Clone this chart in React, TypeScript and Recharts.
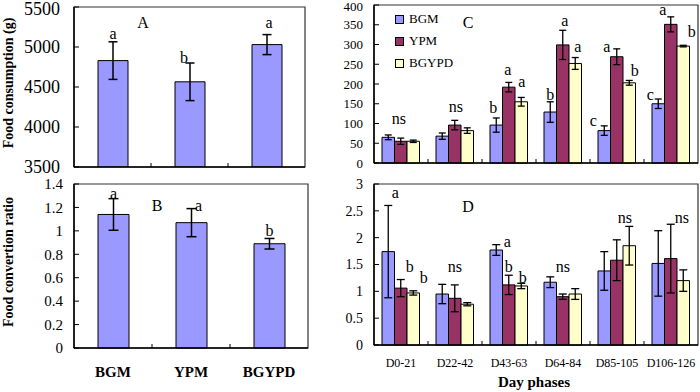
import React from 'react';
import {
  BarChart,
  Bar,
  XAxis,
  YAxis,
  ErrorBar,
  LabelList,
  ReferenceArea,
  Label,
  Legend,
} from 'recharts';

// ---- Panels A & B: whole-trial totals per diet ----
const diets = ['BGM', 'YPM', 'BGYPD'];
const consumption = [4830, 4565, 5030];
const consumptionErr = [235, 235, 125];
const consumptionSig = ['a', 'b', 'a'];
const conversion = [1.14, 1.07, 0.89];
const conversionErr = [0.135, 0.12, 0.045];
const conversionSig = ['a', 'a', 'b'];

// ---- Panels C & D: values per day phase ----
const phases = ['D0-21', 'D22-42', 'D43-63', 'D64-84', 'D85-105', 'D106-126'];

const intakeBGM = [65, 68, 96, 129, 82, 150];
const intakeBGMErr = [6, 8, 18, 26, 12, 12];
const intakeYPM = [55, 96, 192, 299, 269, 351];
const intakeYPMErr = [8, 12, 12, 37, 20, 19];
const intakeBGYPD = [55, 82, 155, 252, 203, 296];
const intakeBGYPDErr = [3, 7, 11, 15, 6, 2];
const intakeBGMSig = ['', '', 'b', 'b', 'c', 'c'];
const intakeYPMSig = ['ns', 'ns', 'a', 'a', 'a', 'a'];
const intakeBGYPDSig = ['', '', 'a', 'a', 'b', 'b'];

const ratioBGM = [1.74, 0.95, 1.77, 1.17, 1.38, 1.52];
const ratioBGMErr = [0.86, 0.18, 0.1, 0.1, 0.36, 0.61];
const ratioYPM = [1.06, 0.87, 1.12, 0.9, 1.58, 1.61];
const ratioYPMErr = [0.16, 0.25, 0.18, 0.05, 0.38, 0.64];
const ratioBGYPD = [0.97, 0.76, 1.1, 0.95, 1.85, 1.2];
const ratioBGYPDErr = [0.04, 0.03, 0.05, 0.1, 0.36, 0.2];
const ratioBGMSig = ['a', '', 'a', '', '', ''];
const ratioYPMSig = ['b', 'ns', 'b', 'ns', '', ''];
const ratioBGYPDSig = ['b', '', 'b', '', 'ns', 'ns'];

// ---- styling ----
const FONT = "'Liberation Serif', 'Times New Roman', serif";
const COLOR_BGM = '#9999FF';
const COLOR_YPM = '#993366';
const COLOR_BGYPD = '#FFFFCC';

// Letter placement tweaks: [dx from bar centre, lift of baseline above error cap]
const shiftA = [[0, 3], [-6, 0], [2, 7]];
const shiftB = [[0, 0], [7, -2], [0, 2]];
const shiftC_BGM = [[0, 3], [0, 3], [-3, 5], [0, 2], [-11, 0], [-8, -1]];
const shiftC_YPM = [[-2, 14], [1, 8], [-1, 7], [2, 4], [-10, -3], [-8, 2]];
const shiftC_BGYPD = [[0, 3], [0, 3], [0.5, 10], [2.5, 6], [5.5, 4], [8.5, 8]];
const shiftD_BGM = [[7, 7], [0, 3], [11, -2], [0, 3], [0, 3], [0, 3]];
const shiftD_YPM = [[9, 8], [0, 13], [0, 3.5], [0, 22], [0, 3], [0, 3]];
const shiftD_BGYPD = [[10.5, 8], [0, 3], [1.5, 0.5], [0, 3], [-4.5, 3.6], [-1.5, 47]];

const rowsA = diets.map((d, i) => ({ name: d, v: consumption[i], e: consumptionErr[i] }));
const rowsB = diets.map((d, i) => ({ name: d, v: conversion[i], e: conversionErr[i] }));
const rowsC = phases.map((p, i) => ({
  name: p,
  bgm: intakeBGM[i], bgmErr: intakeBGMErr[i],
  ypm: intakeYPM[i], ypmErr: intakeYPMErr[i],
  bgypd: intakeBGYPD[i], bgypdErr: intakeBGYPDErr[i],
}));
const rowsD = phases.map((p, i) => ({
  name: p,
  bgm: ratioBGM[i], bgmErr: ratioBGMErr[i],
  ypm: ratioYPM[i], ypmErr: ratioYPMErr[i],
  bgypd: ratioBGYPD[i], bgypdErr: ratioBGYPDErr[i],
}));

// Significance letter drawn above the error cap of a bar
const sigLabel =
  (letters: string[], values: number[], errs: number[], base: number, shifts: number[][]) =>
  (props: any) => {
    const index = props.index;
    const text = letters[index];
    if (!text) return null;
    const vb = props.viewBox && props.viewBox.width !== undefined ? props.viewBox : props;
    const { x, y, width, height } = vb;
    const ppu = height / (values[index] - base);
    const capY = y - errs[index] * ppu;
    const [dx, lift] = shifts[index] || [0, 3];
    return (
      <text
        x={x + width / 2 + dx}
        y={capY - lift}
        textAnchor="middle"
        fontSize={16}
        fontFamily={FONT}
        fill="#000"
      >
        {text}
      </text>
    );
  };

// Category axis tick: boundary mark between categories + optional label
const categoryTick =
  (band: number, count: number, opts: { show: boolean; size?: number; weight?: string; dy?: number }) =>
  (props: any) => {
    const { x, y, payload } = props;
    const index = payload?.index ?? props.index;
    return (
      <g>
        {index < count - 1 && (
          <line x1={x + band / 2} x2={x + band / 2} y1={y} y2={y - 4} stroke="#000" strokeWidth={1} />
        )}
        {opts.show && (
          <text
            x={x}
            y={y + (opts.dy || 0)}
            textAnchor="middle"
            fontSize={opts.size}
            fontWeight={opts.weight}
            fontFamily={FONT}
            fill="#000"
          >
            {payload.value}
          </text>
        )}
      </g>
    );
  };

// Value axis tick label; the topmost label is kept inside the chart's top edge
const valueTick = (size: number, minY: number) => (props: any) => {
  const { x, y, payload } = props;
  return (
    <text
      x={x}
      y={Math.max(y, minY)}
      dy="0.355em"
      textAnchor="end"
      fontSize={size}
      fontFamily={FONT}
      fill="#000"
    >
      {String(payload.value)}
    </text>
  );
};

const yTitle = (text: string) => (props: any) => {
  const vb = props.viewBox || {};
  const cx = (vb.x ?? 0) + 13;
  const cy = (vb.y ?? 0) + (vb.height ?? 0) / 2 - 4;
  return (
    <text
      x={cx}
      y={cy}
      transform={`rotate(-90 ${cx} ${cy})`}
      textAnchor="middle"
      fontSize={14}
      fontWeight="bold"
      fontFamily={FONT}
      fill="#000"
    >
      {text}
    </text>
  );
};

const panelTag = (text: string, dx: number, dy: number) => (props: any) => {
  const vb = props.viewBox || {};
  return (
    <text x={(vb.x ?? 0) + dx} y={(vb.y ?? 0) + dy} textAnchor="middle" fontSize={16} fontFamily={FONT} fill="#000">
      {text}
    </text>
  );
};

const xTitle = (text: string) => (props: any) => {
  const vb = props.viewBox || {};
  return (
    <text
      x={(vb.x ?? 0) + (vb.width ?? 0) / 2 - 2}
      y={(vb.y ?? 0) + 42}
      textAnchor="middle"
      fontSize={15}
      fontWeight="bold"
      fontFamily={FONT}
      fill="#000"
    >
      {text}
    </text>
  );
};

const legendItems = [
  { name: 'BGM', color: COLOR_BGM },
  { name: 'YPM', color: COLOR_YPM },
  { name: 'BGYPD', color: COLOR_BGYPD },
];

const LegendBox = () => (
  <div style={{ fontFamily: FONT, fontSize: 13, color: '#000' }}>
    {legendItems.map((it) => (
      <div key={it.name} style={{ display: 'flex', alignItems: 'center', height: 22 }}>
        <span
          style={{
            display: 'inline-block',
            width: 7,
            height: 7,
            background: it.color,
            border: '1px solid #000',
            marginRight: 5,
          }}
        />
        <span>{it.name}</span>
      </div>
    ))}
  </div>
);

const axisLine = { stroke: '#000', strokeWidth: 1.5 };
const innerTick = { stroke: '#000', strokeWidth: 1 };

export default function App() {
  return (
    <div
      style={{
        position: 'absolute',
        left: 0,
        top: 0,
        width: 700,
        height: 392,
        background: '#fff',
        fontFamily: FONT,
        overflow: 'hidden',
      }}
    >
      {/* A: food consumption */}
      <div style={{ position: 'absolute', left: 0, top: 0 }}>
        <BarChart width={310} height={180} data={rowsA} margin={{ top: 7, right: 5, bottom: 0, left: 0 }}>
          <ReferenceArea y1={3500} y2={5500} fill="none" stroke="#333" strokeWidth={1.2} ifOverflow="visible">
            <Label content={panelTag('A', 69, 21)} />
          </ReferenceArea>
          <XAxis
            dataKey="name"
            height={13}
            axisLine={axisLine}
            tickLine={false}
            tickSize={0}
            tickMargin={0}
            interval={0}
            tick={categoryTick(231 / 3, 3, { show: false })}
          />
          <YAxis
            width={74}
            domain={[3500, 5500]}
            ticks={[3500, 4000, 4500, 5000, 5500]}
            interval={0}
            axisLine={axisLine}
            tickLine={innerTick}
            tickSize={-5}
            tickMargin={19}
            tick={valueTick(18, 9)}
            allowDataOverflow
          >
            <Label content={yTitle('Food consumption (g)')} />
          </YAxis>
          <Bar dataKey="v" fill={COLOR_BGM} stroke="#000" strokeWidth={1} barSize={30} isAnimationActive={false}>
            <ErrorBar dataKey="e" width={4.5} stroke="#000" strokeWidth={1.5} />
            <LabelList content={sigLabel(consumptionSig, consumption, consumptionErr, 3500, shiftA)} />
          </Bar>
        </BarChart>
      </div>

      {/* B: food conversion ratio */}
      <div style={{ position: 'absolute', left: 0, top: 176 }}>
        <BarChart width={312} height={216} data={rowsB} margin={{ top: 8, right: 4, bottom: 0, left: 0 }}>
          <ReferenceArea y1={0} y2={1.4} fill="none" stroke="#333" strokeWidth={1.2} ifOverflow="visible">
            <Label content={panelTag('B', 83, 27)} />
          </ReferenceArea>
          <XAxis
            dataKey="name"
            height={44}
            axisLine={axisLine}
            tickLine={false}
            tickSize={0}
            tickMargin={0}
            interval={0}
            tick={categoryTick(234 / 3, 3, { show: true, size: 15, weight: 'bold', dy: 29 })}
          />
          <YAxis
            width={74}
            domain={[0, 1.4]}
            ticks={[0, 0.2, 0.4, 0.6, 0.8, 1, 1.2, 1.4]}
            interval={0}
            axisLine={axisLine}
            tickLine={innerTick}
            tickSize={-5}
            tickMargin={16}
            tick={valueTick(15, 0)}
          >
            <Label content={yTitle('Food convertion ratio')} />
          </YAxis>
          <Bar dataKey="v" fill={COLOR_BGM} stroke="#000" strokeWidth={1} barSize={31} isAnimationActive={false}>
            <ErrorBar dataKey="e" width={5} stroke="#000" strokeWidth={1.5} />
            <LabelList content={sigLabel(conversionSig, conversion, conversionErr, 0, shiftB)} />
          </Bar>
        </BarChart>
      </div>

      {/* C: intake per day phase */}
      <div style={{ position: 'absolute', left: 330, top: 0 }}>
        <BarChart
          width={370}
          height={172}
          data={rowsC}
          margin={{ top: 5, right: 2, bottom: 0, left: 0 }}
          barGap={0}
        >
          <ReferenceArea y1={0} y2={400} fill="none" stroke="#333" strokeWidth={1.2} ifOverflow="visible">
            <Label content={panelTag('C', 94, 23)} />
          </ReferenceArea>
          <XAxis
            dataKey="name"
            height={9}
            axisLine={axisLine}
            tickLine={false}
            tickSize={0}
            tickMargin={0}
            interval={0}
            tick={categoryTick(54, 6, { show: false })}
          />
          <YAxis
            width={44}
            domain={[0, 400]}
            ticks={[0, 50, 100, 150, 200, 250, 300, 350, 400]}
            interval={0}
            axisLine={axisLine}
            tickLine={innerTick}
            tickSize={-5}
            tickMargin={16}
            tick={valueTick(13, 6.5)}
          />
          <Legend
            layout="vertical"
            align="center"
            verticalAlign="middle"
            content={() => <LegendBox />}
            wrapperStyle={{ left: 65, top: 8, width: 80, height: 66 }}
          />
          <Bar dataKey="bgm" name="BGM" fill={COLOR_BGM} stroke="#000" strokeWidth={1} barSize={12.5} isAnimationActive={false}>
            <ErrorBar dataKey="bgmErr" width={3.5} stroke="#000" strokeWidth={1.3} />
            <LabelList content={sigLabel(intakeBGMSig, intakeBGM, intakeBGMErr, 0, shiftC_BGM)} />
          </Bar>
          <Bar dataKey="ypm" name="YPM" fill={COLOR_YPM} stroke="#000" strokeWidth={1} barSize={12.5} isAnimationActive={false}>
            <ErrorBar dataKey="ypmErr" width={3.5} stroke="#000" strokeWidth={1.3} />
            <LabelList content={sigLabel(intakeYPMSig, intakeYPM, intakeYPMErr, 0, shiftC_YPM)} />
          </Bar>
          <Bar dataKey="bgypd" name="BGYPD" fill={COLOR_BGYPD} stroke="#000" strokeWidth={1} barSize={12.5} isAnimationActive={false}>
            <ErrorBar dataKey="bgypdErr" width={3.5} stroke="#000" strokeWidth={1.3} />
            <LabelList content={sigLabel(intakeBGYPDSig, intakeBGYPD, intakeBGYPDErr, 0, shiftC_BGYPD)} />
          </Bar>
        </BarChart>
      </div>

      {/* D: conversion ratio per day phase */}
      <div style={{ position: 'absolute', left: 330, top: 176 }}>
        <BarChart
          width={370}
          height={216}
          data={rowsD}
          margin={{ top: 8, right: 2, bottom: 0, left: 0 }}
          barGap={0}
        >
          <ReferenceArea y1={0} y2={3} fill="none" stroke="#333" strokeWidth={1.2} ifOverflow="visible">
            <Label content={panelTag('D', 94, 28)} />
          </ReferenceArea>
          <XAxis
            dataKey="name"
            height={47}
            axisLine={axisLine}
            tickLine={false}
            tickSize={0}
            tickMargin={0}
            interval={0}
            tick={categoryTick(54, 6, { show: true, size: 12, dy: 22 })}
          >
            <Label content={xTitle('Day phases')} />
          </XAxis>
          <YAxis
            width={44}
            domain={[0, 3]}
            ticks={[0, 0.5, 1, 1.5, 2, 2.5, 3]}
            interval={0}
            axisLine={axisLine}
            tickLine={innerTick}
            tickSize={-5}
            tickMargin={16}
            tick={valueTick(14, 0)}
          />
          <Bar dataKey="bgm" fill={COLOR_BGM} stroke="#000" strokeWidth={1} barSize={12.5} isAnimationActive={false}>
            <ErrorBar dataKey="bgmErr" width={4} stroke="#000" strokeWidth={1.3} />
            <LabelList content={sigLabel(ratioBGMSig, ratioBGM, ratioBGMErr, 0, shiftD_BGM)} />
          </Bar>
          <Bar dataKey="ypm" fill={COLOR_YPM} stroke="#000" strokeWidth={1} barSize={12.5} isAnimationActive={false}>
            <ErrorBar dataKey="ypmErr" width={4} stroke="#000" strokeWidth={1.3} />
            <LabelList content={sigLabel(ratioYPMSig, ratioYPM, ratioYPMErr, 0, shiftD_YPM)} />
          </Bar>
          <Bar dataKey="bgypd" fill={COLOR_BGYPD} stroke="#000" strokeWidth={1} barSize={12.5} isAnimationActive={false}>
            <ErrorBar dataKey="bgypdErr" width={4} stroke="#000" strokeWidth={1.3} />
            <LabelList content={sigLabel(ratioBGYPDSig, ratioBGYPD, ratioBGYPDErr, 0, shiftD_BGYPD)} />
          </Bar>
        </BarChart>
      </div>
    </div>
  );
}
